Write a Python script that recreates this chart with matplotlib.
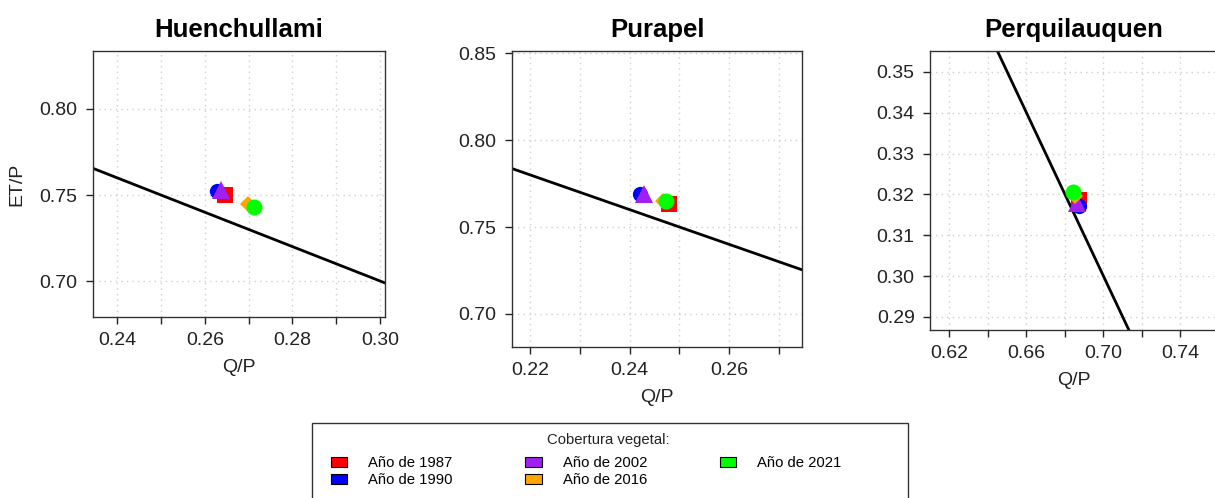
import matplotlib
matplotlib.use('AGG')
import matplotlib.pyplot as plt
from matplotlib.patches import Patch, Rectangle
import numpy as np

plt.rcParams['font.family'] = ['Liberation Sans', 'DejaVu Sans']

# datos
years = ['1987', '1990', '2002', '2016', '2021']
colors = ['#FF0000', '#0000FF', '#A020F0', '#FFA500', '#00FF00']
markers = ['s', 'o', '^', 'D', 'o']
msizes = [11, 11, 13, 8, 11.5]

sites = ['Huenchullami', 'Purapel', 'Perquilauquen']
qp_huenchullami = [0.2647, 0.2628, 0.2637, 0.2698, 0.2713]
etp_huenchullami = [0.7502, 0.7523, 0.7530, 0.7450, 0.7430]
qp_purapel = [0.2480, 0.2421, 0.2428, 0.2467, 0.2473]
etp_purapel = [0.7631, 0.7692, 0.7692, 0.7652, 0.7650]
qp_perquilauquen = [0.6873, 0.6873, 0.6865, 0.6850, 0.6842]
etp_perquilauquen = [0.3187, 0.3172, 0.3179, 0.3195, 0.3207]

W, H = 1215, 498
fig = plt.figure(figsize=(W / 100, H / 100), dpi=100)


def px_axes(l, t, r, b):
    return fig.add_axes([l / W, 1 - b / H, (r - l) / W, (b - t) / H])


panels = [
    dict(box=(93, 51, 385, 317), xlim=(0.2345, 0.3011), ylim=(0.6791, 0.8337),
         xt=np.arange(0.24, 0.3001, 0.01), xl=[0.24, 0.26, 0.28, 0.30],
         yt=[0.70, 0.75, 0.80], qp=qp_huenchullami, etp=etp_huenchullami),
    dict(box=(512, 51, 802, 347), xlim=(0.2164, 0.2746), ylim=(0.681, 0.8512),
         xt=np.arange(0.22, 0.2701, 0.01), xl=[0.22, 0.24, 0.26],
         yt=[0.70, 0.75, 0.80, 0.85], qp=qp_purapel, etp=etp_purapel),
    dict(box=(930, 51, 1218, 330), xlim=(0.6099, 0.7595), ylim=(0.2868, 0.3551),
         xt=np.arange(0.62, 0.7401, 0.02), xl=[0.62, 0.66, 0.70, 0.74],
         yt=np.arange(0.29, 0.3501, 0.01), qp=qp_perquilauquen, etp=etp_perquilauquen),
]

for i, (site, p) in enumerate(zip(sites, panels)):
    ax = px_axes(*p['box'])
    ax.set_xlim(p['xlim'])
    ax.set_ylim(p['ylim'])
    ax.set_xticks(p['xt'])
    ax.set_xticklabels(['%.2f' % v if any(abs(v - l) < 1e-6 for l in p['xl']) else ''
                        for v in p['xt']])
    ax.set_yticks(p['yt'])
    ax.set_yticklabels(['%.2f' % v for v in p['yt']])
    ax.grid(True, color='#d0d0d0', linestyle=(0, (1, 3)), linewidth=1)
    ax.set_axisbelow(True)

    # linea de balance hidrico ET/P = 1 - Q/P
    xs = np.array(p['xlim'])
    ax.plot(xs, 1 - xs, color='black', linewidth=2, zorder=2)

    for k in range(len(years)):
        ax.plot(p['qp'][k], p['etp'][k], linestyle='none', marker=markers[k],
                markersize=msizes[k], color=colors[k], markeredgewidth=0, zorder=3)

    ax.tick_params(direction='out', length=5, width=1, labelsize=14,
                   pad=6, colors='#222222')
    for s in ax.spines.values():
        s.set_color('#333333')
        s.set_linewidth(1)
    ax.set_title(site, fontsize=18.5, fontweight='bold', pad=10)
    ax.set_xlabel('Q/P', fontsize=14, color='#222222', labelpad=7)
    if i == 0:
        ax.set_ylabel('ET/P', fontsize=14, color='#222222', labelpad=10)

# leyenda
handles = [Patch(facecolor=c, edgecolor='black', linewidth=0.8) for c in colors]
labels = ['Año de ' + y for y in years]
fig.legend(handles, labels, ncol=3, loc='upper left',
           bbox_to_anchor=(331 / W, 1 - 456 / H), frameon=False,
           fontsize=10.7, handlelength=1.1, handleheight=0.7, handletextpad=1.4,
           columnspacing=4.9, labelspacing=0.2, borderpad=0, borderaxespad=0)
fig.text(608 / W, 1 - 440 / H, 'Cobertura vegetal:', ha='center', va='center',
         fontsize=10.7, color='#222222')
fig.add_artist(Rectangle((312 / W, -0.05), (908 - 312) / W, 0.05 + (1 - 423 / H),
                         transform=fig.transFigure, fill=False,
                         edgecolor='#333333', linewidth=1))

fig.savefig('out.png', dpi=100)
